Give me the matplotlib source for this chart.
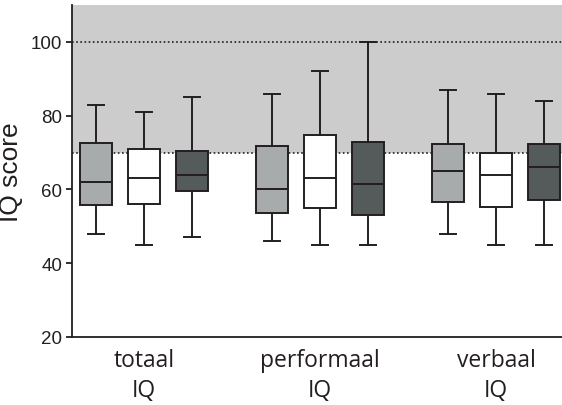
import matplotlib
matplotlib.use("Agg")
import matplotlib.pyplot as plt

plt.rcParams["font.family"] = ["Open Sans", "DejaVu Sans"]

# box statistics: (whislo, q1, med, q3, whishi)
groups = ["totaal\nIQ", "performaal\nIQ", "verbaal\nIQ"]
totaal = [(48, 55.8, 62, 72.6, 82.8), (45, 56.1, 63, 71, 81), (47, 59.5, 64, 70.5, 85)]
performaal = [(46, 53.5, 60, 71.8, 86), (45, 55, 63, 74.8, 92), (45, 53, 61.5, 72.8, 100)]
verbaal = [(48, 56.5, 65, 72.3, 87), (45, 55.3, 64, 70, 86), (45, 57.2, 66, 72.3, 84)]
box_colors = ["#a7abab", "#ffffff", "#555a5a"]
yticks = [20, 40, 60, 80, 100]
ref_lines = [70, 100]

positions = [6, 9, 12, 17, 20, 23, 28, 31, 34]
group_centers = [9, 20, 31]
edge = "#231f20"

stats = []
for series in (totaal, performaal, verbaal):
    for lo, q1, med, q3, hi in series:
        stats.append({"whislo": lo, "q1": q1, "med": med, "q3": q3, "whishi": hi, "fliers": []})

fig = plt.figure(figsize=(5.62, 4.06), dpi=100)
ax = fig.add_axes([0.128, 0.168, 0.872, 0.817])

ax.axhspan(70, 110, color="#cccccc", zorder=0, lw=0)
for y in ref_lines:
    ax.axhline(y, color=edge, linestyle=(0, (1, 1.5)), lw=1.2, zorder=1)

bp = ax.bxp(
    stats,
    positions=positions,
    widths=2,
    capwidths=1,
    showfliers=False,
    patch_artist=True,
    boxprops=dict(edgecolor=edge, linewidth=1.4),
    medianprops=dict(color=edge, linewidth=1.4),
    whiskerprops=dict(color=edge, linewidth=1.4),
    capprops=dict(color=edge, linewidth=1.4),
    zorder=3,
)
for i, patch in enumerate(bp["boxes"]):
    patch.set_facecolor(box_colors[i % 3])

ax.set_xlim(4.5, 35.125)
ax.set_ylim(20, 110)
ax.set_yticks(yticks)
ax.set_yticklabels([str(t) for t in yticks], family=["Liberation Sans", "DejaVu Sans"])
ax.set_xticks(group_centers)
ax.set_xticklabels(groups, fontsize=16.5, linespacing=1.32)
ax.tick_params(axis="x", length=0, pad=8, colors=edge)
ax.tick_params(axis="y", direction="out", length=4, width=1.3, labelsize=13.5, colors=edge, pad=3)
ax.set_ylabel("IQ score", fontsize=19, color=edge, labelpad=6,
              family=["Liberation Sans", "DejaVu Sans"])

for side in ("top", "right"):
    ax.spines[side].set_visible(False)
for side in ("left", "bottom"):
    ax.spines[side].set_linewidth(1.3)
    ax.spines[side].set_color(edge)

fig.savefig("out.png", dpi=100)
